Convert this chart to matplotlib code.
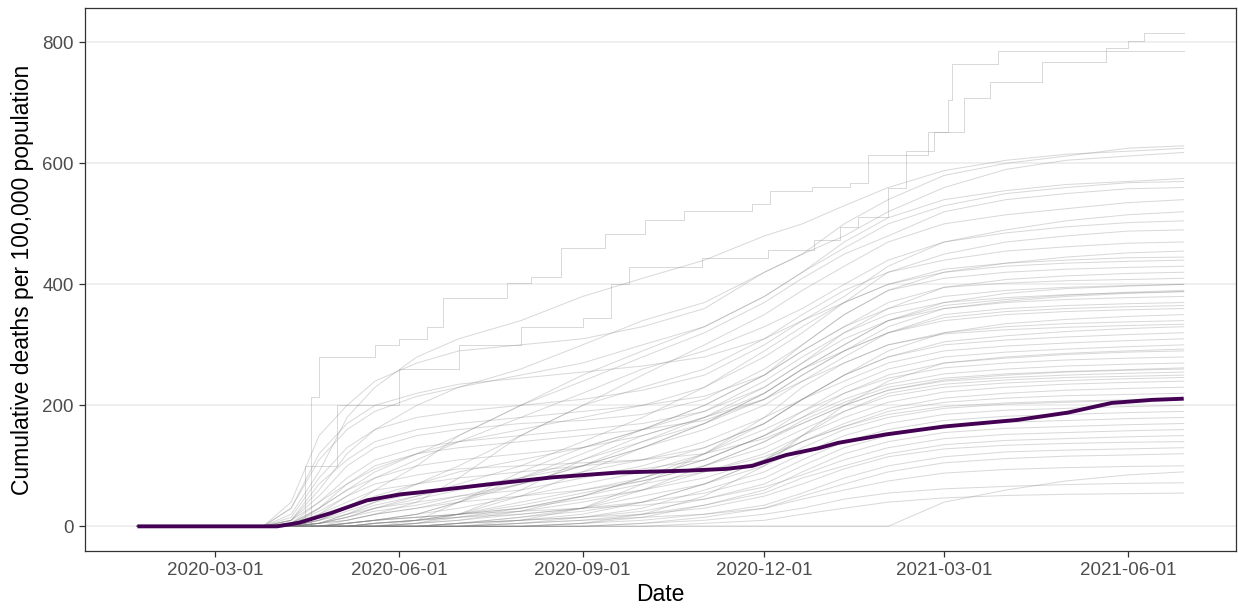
import numpy as np
import pandas as pd
import matplotlib
matplotlib.use("Agg")
import matplotlib.pyplot as plt
import matplotlib.dates as mdates

plt.rcParams['font.family'] = ['Liberation Sans', 'DejaVu Sans']

# common dates for the county traces
grid_dates = ['2020-01-22', '2020-03-25', '2020-04-08', '2020-04-22', '2020-05-06',
              '2020-05-20', '2020-06-10', '2020-07-01', '2020-08-01', '2020-09-01',
              '2020-10-01', '2020-11-01', '2020-12-01', '2020-12-20', '2021-01-10',
              '2021-02-01', '2021-03-01', '2021-04-01', '2021-05-01', '2021-06-01',
              '2021-06-29']

# cumulative deaths per 100k, one list per county
county_01 = [0, 0, 40, 150, 200, 240, 270, 290, 300, 310, 330, 360, 420, 450, 500, 540, 580, 600, 612, 625, 629]
county_02 = [0, 0, 20, 90, 180, 230, 280, 310, 340, 380, 410, 440, 480, 500, 530, 560, 588, 605, 615, 620, 625]
county_03 = [0, 0, 10, 60, 120, 160, 200, 230, 260, 300, 340, 370, 420, 450, 480, 520, 560, 590, 605, 612, 618]
county_04 = [0, 0, 5, 30, 60, 90, 120, 150, 200, 250, 290, 330, 380, 420, 470, 510, 540, 555, 565, 570, 575]
county_05 = [0, 0, 30, 110, 160, 190, 215, 230, 250, 270, 300, 330, 380, 420, 460, 500, 530, 550, 560, 568, 570]
county_06 = [0, 0, 0, 10, 30, 60, 100, 150, 200, 240, 280, 320, 370, 410, 450, 480, 520, 540, 550, 558, 560]
county_07 = [0, 0, 0, 5, 20, 40, 70, 100, 150, 200, 250, 300, 350, 390, 430, 470, 500, 515, 525, 535, 540]
county_08 = [0, 0, 15, 80, 130, 160, 180, 190, 200, 210, 225, 250, 300, 340, 380, 430, 470, 490, 505, 515, 520]
county_09 = [0, 0, 0, 20, 50, 80, 110, 140, 180, 220, 260, 290, 330, 360, 400, 440, 470, 485, 495, 502, 505]
county_10 = [0, 0, 5, 40, 70, 95, 120, 140, 160, 180, 200, 230, 280, 320, 370, 420, 450, 470, 480, 488, 490]
county_11 = [0, 0, 0, 0, 10, 20, 40, 80, 150, 200, 230, 260, 310, 350, 390, 420, 440, 455, 462, 468, 470]
county_12 = [0, 0, 10, 50, 100, 130, 150, 160, 170, 175, 185, 210, 260, 300, 350, 390, 420, 435, 445, 452, 455]
county_13 = [0, 0, 0, 5, 15, 30, 50, 70, 100, 140, 180, 230, 290, 330, 370, 400, 425, 435, 440, 444, 445]
county_14 = [0, 0, 0, 10, 30, 50, 70, 90, 110, 130, 160, 200, 250, 300, 350, 390, 410, 420, 425, 428, 430]
county_15 = [0, 0, 5, 30, 60, 80, 100, 110, 120, 130, 150, 180, 230, 270, 320, 360, 395, 408, 414, 418, 420]
county_16 = [0, 0, 0, 0, 5, 10, 20, 40, 80, 120, 160, 200, 250, 290, 330, 370, 395, 402, 406, 408, 410]
county_17 = [0, 0, 0, 5, 20, 35, 50, 65, 80, 100, 130, 170, 220, 260, 300, 340, 370, 385, 393, 397, 400]
county_18 = [0, 0, 0, 0, 0, 5, 10, 20, 50, 90, 130, 170, 220, 260, 300, 340, 365, 375, 382, 387, 390]
county_19 = [0, 0, 10, 40, 80, 110, 130, 140, 150, 160, 170, 190, 230, 270, 310, 340, 360, 370, 375, 378, 380]
county_20 = [0, 0, 0, 5, 10, 20, 30, 45, 70, 100, 130, 160, 200, 240, 280, 320, 350, 360, 365, 368, 370]
county_21 = [0, 0, 0, 0, 5, 10, 20, 40, 70, 100, 140, 180, 220, 260, 290, 320, 340, 350, 355, 358, 360]
county_22 = [0, 0, 0, 10, 20, 30, 40, 50, 60, 80, 100, 130, 170, 210, 250, 290, 320, 335, 342, 347, 350]
county_23 = [0, 0, 0, 0, 0, 0, 5, 20, 60, 110, 150, 180, 210, 240, 270, 300, 320, 330, 335, 338, 340]
county_24 = [0, 0, 5, 20, 40, 60, 70, 80, 90, 100, 110, 130, 170, 210, 250, 280, 305, 315, 322, 327, 330]
county_25 = [0, 0, 0, 0, 5, 10, 15, 20, 30, 50, 80, 120, 170, 210, 250, 280, 300, 308, 313, 317, 320]
county_26 = [0, 0, 0, 5, 15, 25, 35, 50, 70, 90, 110, 140, 180, 210, 240, 270, 290, 298, 303, 307, 310]
county_27 = [0, 0, 0, 0, 0, 0, 5, 10, 25, 50, 80, 110, 150, 190, 230, 260, 280, 288, 293, 297, 300]
county_28 = [0, 0, 0, 10, 25, 40, 55, 65, 75, 85, 95, 110, 150, 180, 220, 250, 270, 278, 284, 288, 290]
county_29 = [0, 0, 0, 0, 5, 10, 20, 30, 50, 70, 90, 120, 160, 190, 220, 245, 262, 270, 275, 278, 280]
county_30 = [0, 0, 0, 0, 0, 5, 10, 20, 40, 60, 80, 110, 150, 180, 210, 235, 252, 260, 265, 268, 270]
county_31 = [0, 0, 0, 0, 0, 0, 0, 5, 15, 30, 60, 100, 140, 170, 200, 225, 242, 250, 255, 258, 260]
county_32 = [0, 0, 0, 5, 10, 20, 30, 40, 50, 60, 75, 100, 130, 160, 190, 220, 235, 242, 246, 248, 250]
county_33 = [0, 0, 0, 0, 0, 5, 10, 15, 25, 40, 60, 90, 120, 150, 180, 205, 222, 230, 235, 238, 240]
county_34 = [0, 0, 0, 0, 0, 0, 0, 5, 10, 20, 40, 70, 110, 140, 170, 195, 212, 220, 225, 228, 230]
county_35 = [0, 0, 0, 0, 5, 10, 15, 20, 30, 45, 60, 80, 110, 140, 165, 190, 205, 212, 216, 218, 220]
county_36 = [0, 0, 0, 0, 0, 0, 5, 10, 20, 30, 50, 70, 100, 130, 160, 180, 195, 202, 205, 208, 210]
county_37 = [0, 0, 0, 0, 0, 0, 0, 0, 5, 15, 30, 60, 90, 120, 150, 170, 185, 192, 195, 198, 200]
county_38 = [0, 0, 0, 0, 0, 5, 10, 15, 20, 30, 40, 55, 80, 110, 140, 160, 175, 182, 185, 188, 190]
county_39 = [0, 0, 0, 0, 0, 0, 0, 5, 10, 15, 25, 45, 70, 100, 130, 150, 165, 172, 175, 178, 180]
county_40 = [0, 0, 0, 0, 0, 0, 0, 0, 0, 5, 15, 35, 60, 90, 120, 140, 155, 162, 165, 168, 170]
county_41 = [0, 0, 0, 0, 5, 10, 15, 20, 25, 30, 35, 45, 65, 85, 110, 130, 145, 152, 155, 158, 160]
county_42 = [0, 0, 0, 0, 0, 0, 0, 0, 5, 10, 20, 35, 55, 80, 100, 120, 135, 142, 145, 148, 150]
county_43 = [0, 0, 0, 0, 0, 0, 0, 5, 10, 15, 20, 30, 50, 70, 95, 115, 128, 134, 137, 139, 140]
county_44 = [0, 0, 0, 0, 0, 0, 0, 0, 0, 5, 10, 20, 35, 55, 80, 100, 115, 123, 126, 128, 130]
county_45 = [0, 0, 0, 0, 0, 0, 0, 0, 0, 0, 5, 15, 30, 50, 70, 90, 105, 112, 116, 118, 120]
county_46 = [0, 0, 0, 0, 0, 0, 0, 0, 5, 10, 15, 20, 30, 45, 60, 75, 88, 94, 97, 99, 100]
county_47 = [0, 0, 0, 0, 0, 0, 0, 0, 0, 0, 0, 0, 0, 0, 0, 0, 40, 60, 75, 85, 90]
county_48 = [0, 0, 0, 0, 0, 0, 0, 0, 0, 0, 5, 10, 20, 30, 45, 55, 62, 66, 69, 71, 72]
county_49 = [0, 0, 0, 0, 0, 0, 0, 0, 0, 0, 0, 5, 10, 20, 30, 40, 47, 51, 53, 54, 55]
county_50 = [0, 0, 30, 120, 170, 200, 220, 235, 245, 255, 265, 280, 310, 340, 370, 400, 420, 430, 435, 438, 440]
county_51 = [0, 0, 10, 70, 110, 140, 160, 170, 180, 190, 200, 215, 250, 290, 330, 360, 380, 390, 395, 398, 400]
county_52 = [0, 0, 0, 30, 70, 100, 120, 130, 140, 150, 160, 175, 210, 250, 290, 320, 345, 355, 360, 363, 365]
county_53 = [0, 0, 0, 0, 0, 0, 10, 40, 90, 130, 160, 190, 240, 280, 320, 350, 370, 378, 383, 386, 388]
county_54 = [0, 0, 0, 0, 0, 0, 0, 0, 10, 30, 70, 120, 180, 230, 270, 300, 318, 325, 329, 332, 334]
county_55 = [0, 0, 0, 0, 0, 5, 10, 20, 35, 55, 75, 100, 140, 175, 205, 230, 245, 252, 256, 259, 262]
county_56 = [0, 0, 0, 0, 0, 0, 0, 5, 15, 25, 40, 70, 110, 150, 190, 215, 230, 237, 241, 244, 246]
county_57 = [0, 0, 5, 25, 50, 70, 85, 95, 100, 105, 110, 120, 145, 170, 200, 225, 240, 246, 250, 253, 255]
county_58 = [0, 0, 0, 0, 0, 0, 0, 0, 0, 5, 20, 50, 100, 150, 200, 240, 270, 280, 286, 290, 293]
county_59 = [0, 0, 0, 5, 15, 30, 45, 60, 80, 110, 140, 170, 210, 250, 290, 330, 360, 372, 380, 385, 388]
county_60 = [0, 0, 0, 0, 0, 0, 5, 15, 30, 50, 70, 90, 115, 140, 165, 185, 198, 204, 207, 209, 211]

# the two highest counties, traced step by step
top1_dates = ['2020-01-22', '2020-04-10', '2020-04-18', '2020-04-22', '2020-05-20', '2020-06-01',
              '2020-06-15', '2020-06-23', '2020-07-25', '2020-08-06', '2020-08-21', '2020-09-12',
              '2020-10-02', '2020-10-22', '2020-11-25', '2020-12-04', '2020-12-25', '2021-01-13',
              '2021-01-22', '2021-02-21', '2021-03-03', '2021-03-05', '2021-03-28', '2021-06-29']
top1_vals = [0, 0, 213, 280, 300, 310, 330, 378, 402, 412, 460, 484, 506, 522, 533, 555, 561, 567,
             613, 652, 704, 765, 785, 785]
top2_dates = ['2020-01-22', '2020-04-01', '2020-04-15', '2020-05-01', '2020-06-01', '2020-07-01',
              '2020-08-01', '2020-09-01', '2020-09-15', '2020-09-24', '2020-10-31', '2020-12-03',
              '2020-12-26', '2021-01-08', '2021-01-17', '2021-02-01', '2021-02-10', '2021-02-24',
              '2021-03-11', '2021-03-24', '2021-04-19', '2021-05-21', '2021-06-01', '2021-06-09',
              '2021-06-29']
top2_vals = [0, 0, 100, 200, 260, 300, 330, 345, 400, 429, 443, 456, 473, 495, 511, 560, 620, 652,
             708, 734, 767, 790, 802, 816, 816]

# national curve
us_dates = ['2020-01-22', '2020-04-01', '2020-04-12', '2020-04-28', '2020-05-16', '2020-06-02',
            '2020-06-11', '2020-07-15', '2020-08-17', '2020-09-19', '2020-10-23', '2020-11-12',
            '2020-11-25', '2020-12-12', '2020-12-28', '2021-01-07', '2021-01-31', '2021-03-01',
            '2021-04-07', '2021-05-02', '2021-05-24', '2021-06-13', '2021-06-29']
us_vals = [0, 0, 6, 22, 43, 53, 56, 69, 81, 89, 92, 95, 100, 118, 129, 138, 152, 165, 176, 188,
           204, 209, 211]

counties = [county_01, county_02, county_03, county_04, county_05, county_06, county_07,
            county_08, county_09, county_10, county_11, county_12, county_13, county_14,
            county_15, county_16, county_17, county_18, county_19, county_20, county_21,
            county_22, county_23, county_24, county_25, county_26, county_27, county_28,
            county_29, county_30, county_31, county_32, county_33, county_34, county_35,
            county_36, county_37, county_38, county_39, county_40, county_41, county_42,
            county_43, county_44, county_45, county_46, county_47, county_48, county_49,
            county_50, county_51, county_52, county_53, county_54, county_55, county_56,
            county_57, county_58, county_59, county_60]

gd = pd.to_datetime(grid_dates)
line_kw = dict(color='#7f7f7f', alpha=0.3, lw=0.7)

fig = plt.figure(figsize=(12.38, 6.09), dpi=100)
ax = fig.add_axes([0.0687, 0.0952, 0.9297, 0.8917])

for c in counties:
    ax.plot(gd, c, **line_kw)
ax.plot(pd.to_datetime(top1_dates), top1_vals, drawstyle='steps-post', **line_kw)
ax.plot(pd.to_datetime(top2_dates), top2_vals, drawstyle='steps-post', **line_kw)

ax.plot(pd.to_datetime(us_dates), us_vals, color='#440154', lw=2.8, solid_capstyle='butt')

# limits with ggplot style 5% padding
x0 = pd.Timestamp('2020-01-22')
x1 = pd.Timestamp('2021-06-29')
pad = (x1 - x0) * 0.05
ax.set_xlim(x0 - pad, x1 + pad)
ax.set_ylim(-40.8, 856.8)

ax.set_yticks([0, 200, 400, 600, 800])
ax.set_xticks(pd.to_datetime(['2020-03-01', '2020-06-01', '2020-09-01', '2020-12-01',
                              '2021-03-01', '2021-06-01']))
ax.xaxis.set_major_formatter(mdates.DateFormatter('%Y-%m-%d'))

ax.grid(axis='y', color='#ebebeb', lw=1.1)
ax.set_axisbelow(True)
for s in ax.spines.values():
    s.set_color('#333333')
    s.set_linewidth(0.9)
ax.tick_params(colors='#333333', labelcolor='#4d4d4d', labelsize=13.5, length=4.5, width=0.9)

ax.set_xlabel('Date', fontsize=16.5, color='black', labelpad=3)
ax.set_ylabel('Cumulative deaths per 100,000 population', fontsize=16.5, color='black', labelpad=6)

fig.savefig('out.png', dpi=100)
